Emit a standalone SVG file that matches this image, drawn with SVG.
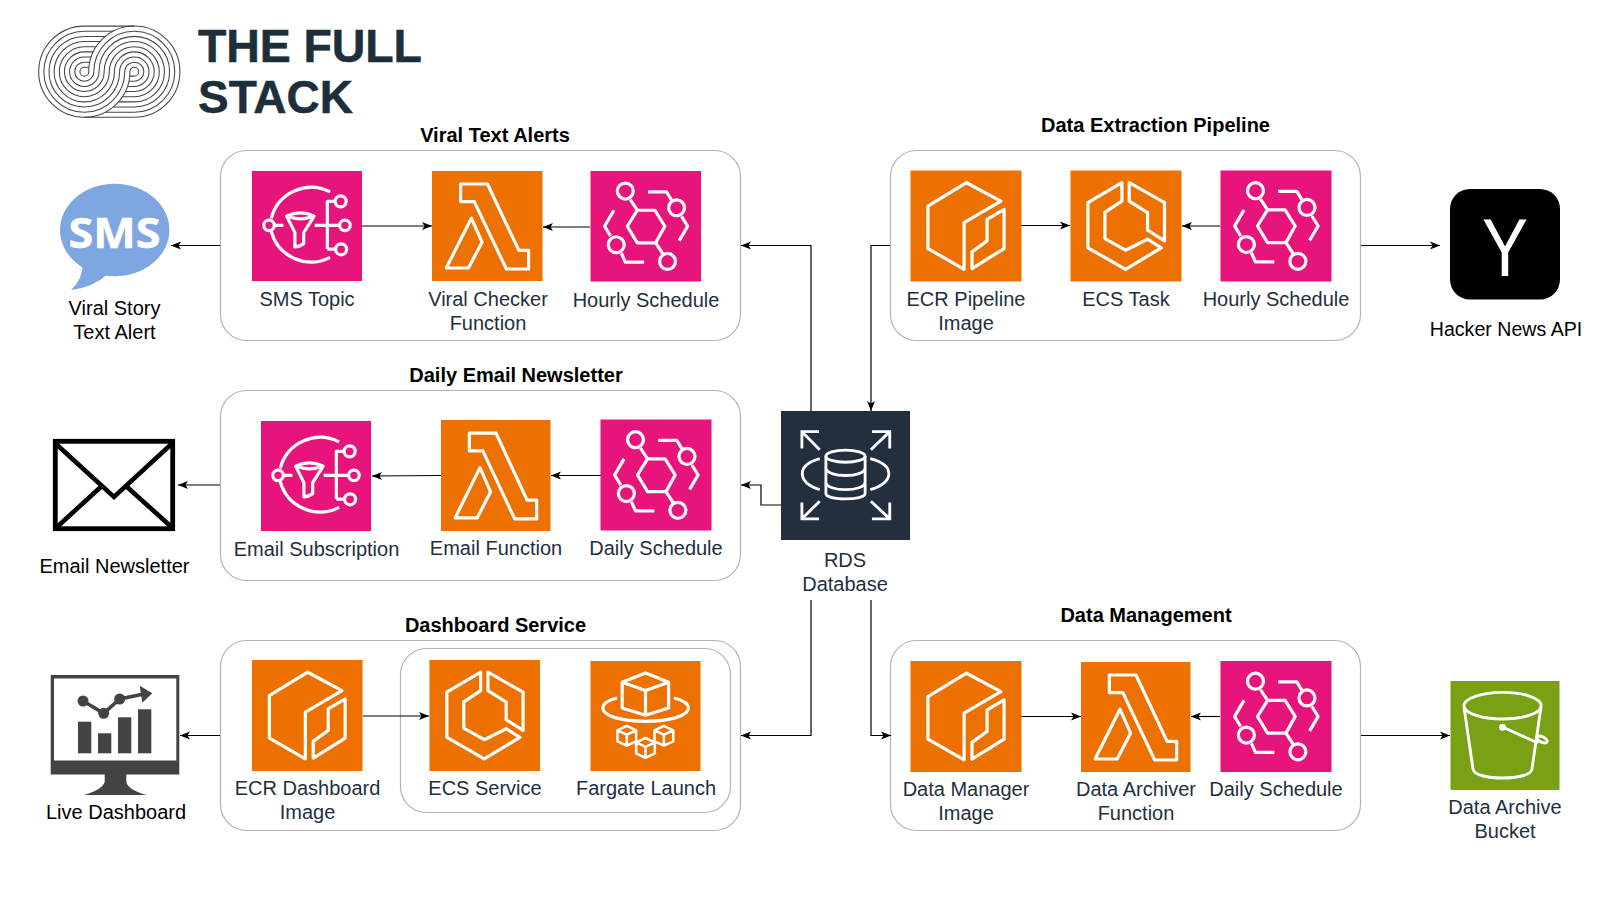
<svg xmlns="http://www.w3.org/2000/svg" width="1601" height="900" viewBox="0 0 1601 900">
<style>
text{font-family:"Liberation Sans",Arial,sans-serif}
.l{font-size:20px;fill:#232F3E;text-anchor:middle}
.k{font-size:20px;fill:#000;text-anchor:middle}
.t{font-size:20px;font-weight:700;fill:#000;text-anchor:middle}
.box{fill:#fff;stroke:#B3B3B3;stroke-width:1.2}
.w{fill:none;stroke:#fff;stroke-width:2.9;stroke-linejoin:round;stroke-linecap:butt}
.c{fill:none;stroke:#000;stroke-width:1.2}
.sp{fill:none;stroke:#444;stroke-width:1.05}
.m{fill:#434343}
.b{fill:#1C2F3B;stroke:#1C2F3B;stroke-width:.5}
</style>
<defs>
<marker id="a" markerUnits="userSpaceOnUse" markerWidth="10" markerHeight="9" viewBox="0 0 10 9" refX="10" refY="4.5" orient="auto"><path d="M0 .5L10 4.5L0 8.5L2.5 4.5Z" fill="#000"/></marker>
<g id="ic-eb"><rect width="100" height="100" fill="#E7157B"/><g class="w"><path d="M33.3 50L42.4 35.5H58.2L67.3 50L59 65H42.4Z"/><circle cx="31.5" cy="18.2" r="7.2"/><circle cx="69.7" cy="81.8" r="7.2"/><circle cx="77.9" cy="33.3" r="7.2"/><circle cx="23.3" cy="66.7" r="7.2"/><path d="M36 25.8L42.4 35.5M59 65L65.5 75M52 18.8H68.8L73.3 26.4M82.4 41L87.9 50L80.3 63M21.2 35.5L12.7 50L18.2 59M27.9 74.2L31.5 82.4H48.5"/></g></g>
<g id="ic-sns"><rect width="100" height="100" fill="#E7157B"/><g class="w"><path d="M71 19A37.5 37.5 0 0 0 17.5 43M17.5 55A37.5 37.5 0 0 0 71 78.5"/><circle cx="15.5" cy="49.4" r="4.8"/><path d="M20 49.4H28.5M31.5 41Q44 35 56.5 41Q44 46 31.5 41ZM31.5 41L39 56V69Q43 69 47 66V56L56.5 41M57 49.4H80M68.5 71V27.6H76M68.5 71H76.3"/><circle cx="80.6" cy="27.6" r="5"/><circle cx="84.5" cy="49.4" r="4.8"/><circle cx="81" cy="71.2" r="5"/></g></g>
<g id="ic-lam"><rect width="100" height="100" fill="#ED7100"/><g class="w"><path d="M25.9 11.8H50.2L78.6 72.2H87.4V89.1H67.3L38.2 27.8H25.9Z"/><path d="M35.6 42.9L45.3 64.7L33 88.2H12.9Z"/></g></g>
<g id="ic-ecr"><rect width="100" height="100" fill="#ED7100"/><g class="w"><path d="M15.7 32L50.4 11L81.4 27.6L48.3 47V89L15.7 70.3Z"/><path d="M84.3 35V70.3L55.4 88.3V73.3L69 63.4V44Z"/></g></g>
<g id="ic-ecs"><rect width="100" height="100" fill="#ED7100"/><g class="w"><path d="M46.3 11V27.6L31 37.8V61.3L49.6 71.8L69.4 61.9L81.8 69.7L49.6 89L15.7 69.7V29Z"/><path d="M52.9 11L84.7 29V63.4L69.4 53.8V38L52.9 27.6Z"/></g></g>
<g id="cube"><path d="M0 -9L8.5 -5V5L0 9L-8.5 5V-5ZM-8.5 -5L0 -1L8.5 -5M0 -1V9" fill="none" stroke="#fff" stroke-width="2.3" stroke-linejoin="round"/></g>
</defs>

<g id="logo">
<g class="sp">
<path d="M134.3 26.1H84.3A45.6 45.6 0 0 0 84.3 117.3A45.6 45.6 0 0 0 129.9 71.7A4.4 4.4 0 0 1 134.3 67.3A4.4 4.4 0 0 1 134.3 76.1H129.69"/>
<path d="M113.25 31.25H84.3A40.45 40.45 0 0 0 84.3 112.15A40.45 40.45 0 0 0 124.75 71.7A9.55 9.55 0 0 1 134.3 62.15A9.55 9.55 0 0 1 134.3 81.25H128.89"/>
<path d="M105.43 36.4H84.3A35.3 35.3 0 0 0 84.3 107A35.3 35.3 0 0 0 119.6 71.7A14.7 14.7 0 0 1 134.3 57A14.7 14.7 0 0 1 134.3 86.4H127.47"/>
<path d="M100.09 41.55H84.3A30.15 30.15 0 0 0 84.3 101.85A30.15 30.15 0 0 0 114.45 71.7A19.85 19.85 0 0 1 134.3 51.85A19.85 19.85 0 0 1 134.3 91.55H125.35"/>
<path d="M96.16 46.7H84.3A25 25 0 0 0 84.3 96.7A25 25 0 0 0 109.3 71.7A25 25 0 0 1 134.3 46.7A25 25 0 0 1 134.3 96.7H122.44"/>
<path d="M93.25 51.85H84.3A19.85 19.85 0 0 0 84.3 91.55A19.85 19.85 0 0 0 104.15 71.7A30.15 30.15 0 0 1 134.3 41.55A30.15 30.15 0 0 1 134.3 101.85H118.51"/>
<path d="M91.13 57H84.3A14.7 14.7 0 0 0 84.3 86.4A14.7 14.7 0 0 0 99 71.7A35.3 35.3 0 0 1 134.3 36.4A35.3 35.3 0 0 1 134.3 107H113.17"/>
<path d="M89.71 62.15H84.3A9.55 9.55 0 0 0 84.3 81.25A9.55 9.55 0 0 0 93.85 71.7A40.45 40.45 0 0 1 134.3 31.25A40.45 40.45 0 0 1 134.3 112.15H105.35"/>
<path d="M88.91 67.3H84.3A4.4 4.4 0 0 0 84.3 76.1A4.4 4.4 0 0 0 88.7 71.7A45.6 45.6 0 0 1 134.3 26.1A45.6 45.6 0 0 1 134.3 117.3H84.3"/>
</g>
<text class="b" x="198" y="62" font-size="46.5" font-weight="700" textLength="224" lengthAdjust="spacing">THE FULL</text>
<text class="b" x="198" y="112.5" font-size="46.5" font-weight="700" textLength="155" lengthAdjust="spacingAndGlyphs">STACK</text>
</g>

<g id="group-viral"><rect class="box" x="220.5" y="150.5" width="520" height="190" rx="26"/><text class="t" x="495" y="142">Viral Text Alerts</text></g>
<g id="group-extraction"><rect class="box" x="890.5" y="150.5" width="470" height="190" rx="26"/><text class="t" x="1155.5" y="132">Data Extraction Pipeline</text></g>
<g id="group-email"><rect class="box" x="220.5" y="390.5" width="520" height="190" rx="26"/><text class="t" x="516" y="382">Daily Email Newsletter</text></g>
<g id="group-dashboard"><rect class="box" x="220.5" y="640.5" width="520" height="190" rx="26"/><rect class="box" x="400.5" y="648.5" width="330" height="164" rx="26"/><text class="t" x="495.5" y="632">Dashboard Service</text></g>
<g id="group-management"><rect class="box" x="890.5" y="640.5" width="470" height="190" rx="26"/><text class="t" x="1146" y="622">Data Management</text></g>

<g id="connectors">
<path class="c" marker-end="url(#a)" d="M220 245.5H171"/>
<path class="c" marker-end="url(#a)" d="M362 226H432"/>
<path class="c" marker-end="url(#a)" d="M590 227H543"/>
<path class="c" marker-end="url(#a)" d="M811 411V245.5H741"/>
<path class="c" marker-end="url(#a)" d="M890 245.5H871V411"/>
<path class="c" marker-end="url(#a)" d="M1021 225.5H1070"/>
<path class="c" marker-end="url(#a)" d="M1220 226H1182"/>
<path class="c" marker-end="url(#a)" d="M1361 245.5H1440"/>
<path class="c" marker-end="url(#a)" d="M220 485H178"/>
<path class="c" marker-end="url(#a)" d="M441 475.5L372 476"/>
<path class="c" marker-end="url(#a)" d="M601 475.5H551"/>
<path class="c" marker-end="url(#a)" d="M781 505H761V485H741"/>
<path class="c" marker-end="url(#a)" d="M220 735.5H180"/>
<path class="c" marker-end="url(#a)" d="M363 716H429"/>
<path class="c" marker-end="url(#a)" d="M811 600V735.5H741"/>
<path class="c" marker-end="url(#a)" d="M871 600V735.5H891"/>
<path class="c" marker-end="url(#a)" d="M1021 716.5H1081"/>
<path class="c" marker-end="url(#a)" d="M1220 716.5H1191"/>
<path class="c" marker-end="url(#a)" d="M1361 735.5H1450"/>
</g>

<g id="sms-alert">
<ellipse cx="114.7" cy="230" rx="54.7" ry="46.3" fill="#7EA6E0"/>
<path d="M83 262Q83 279 71 290Q92 288 108 274Z" fill="#7EA6E0"/>
<text x="114.5" y="248" font-size="42" font-weight="700" fill="#fff" stroke="#fff" stroke-width=".5" text-anchor="middle" style="font-family:'Open Sans','DejaVu Sans',sans-serif" textLength="92" lengthAdjust="spacingAndGlyphs">SMS</text>
<text class="k" x="114.5" y="315">Viral Story</text><text class="k" x="114.5" y="339">Text Alert</text>
</g>
<g id="sms-topic"><use href="#ic-sns" transform="translate(252 171) scale(1.1)"/><text class="l" x="307" y="306">SMS Topic</text></g>
<g id="viral-checker"><use href="#ic-lam" transform="translate(432 171) scale(1.105 1.1)"/><text class="l" x="488" y="306">Viral Checker</text><text class="l" x="488" y="330">Function</text></g>
<g id="hourly-1"><use href="#ic-eb" transform="translate(590.5 171) scale(1.105)"/><text class="l" x="646" y="307">Hourly Schedule</text></g>

<g id="ecr-pipeline"><use href="#ic-ecr" transform="translate(910.5 170.5) scale(1.11)"/><text class="l" x="966" y="306">ECR Pipeline</text><text class="l" x="966" y="330">Image</text></g>
<g id="ecs-task"><use href="#ic-ecs" transform="translate(1070.5 170.5) scale(1.11)"/><text class="l" x="1126" y="306">ECS Task</text></g>
<g id="hourly-2"><use href="#ic-eb" transform="translate(1220.5 170.5) scale(1.11)"/><text class="l" x="1276" y="306">Hourly Schedule</text></g>
<g id="hacker-news"><rect x="1450" y="189" width="110" height="110.5" rx="20" fill="#000"/><text x="1505" y="276" font-size="82" fill="#fff" text-anchor="middle" textLength="46" lengthAdjust="spacingAndGlyphs">Y</text><text class="k" style="font-size:19.6px" x="1506" y="336">Hacker News API</text></g>

<g id="email-newsletter"><rect x="55.3" y="441.3" width="117.4" height="87.4" fill="#fff" stroke="#000" stroke-width="4.8"/><path d="M56 444L114 497L171.5 444M57 527L101 486.7M171.5 527L126.8 486.7" fill="none" stroke="#000" stroke-width="4.6"/><text class="k" x="114.5" y="573">Email Newsletter</text></g>
<g id="email-sub"><use href="#ic-sns" transform="translate(261 421) scale(1.1)"/><text class="l" x="316.5" y="556">Email Subscription</text></g>
<g id="email-fn"><use href="#ic-lam" transform="translate(441 420) scale(1.095 1.11)"/><text class="l" x="496" y="555">Email Function</text></g>
<g id="daily-1"><use href="#ic-eb" transform="translate(600.5 419.5) scale(1.11)"/><text class="l" x="656" y="555">Daily Schedule</text></g>

<g id="rds"><rect x="781" y="411" width="129" height="129" fill="#232F3E"/>
<g transform="translate(781 411) scale(1.29)" fill="none" stroke="#fff" stroke-width="2.2">
<ellipse cx="50" cy="35" rx="15.2" ry="4.7"/>
<path d="M34.8 35V64C34.8 69.5 65.2 69.5 65.2 64V35M34.8 44C34.8 52 65.2 52 65.2 44M34.8 55C34.8 63 65.2 63 65.2 55"/>
<path d="M30 37C12 42 12 55 30 61M69.2 37C88.4 42 88.4 55 69.2 61"/>
<path d="M29.5 16H16.2V29M16.2 16L30 30M70.5 16H84.3V29M84.3 16L69.7 30M29.5 83.6H16.2V70.9M16.2 83.6L30 70M70.5 83.6H84.3V70.9M84.3 83.6L69.7 70"/>
</g>
<text class="l" x="845" y="567">RDS</text><text class="l" x="845" y="591">Database</text></g>

<g id="live-dashboard">
<rect class="m" x="50.7" y="675" width="128.6" height="99.5"/><rect x="54" y="678.5" width="122.3" height="82" fill="#fff"/>
<path class="m" d="M104.7 774H126.3V782Q128 790 146.7 795H83.7Q102 790 104.7 782Z"/>
<rect class="m" x="78" y="721.7" width="13.3" height="31.6"/><rect class="m" x="98" y="733.3" width="13.3" height="20"/><rect class="m" x="118" y="717.3" width="13.3" height="36"/><rect class="m" x="138" y="709.3" width="13.3" height="44"/>
<path d="M83 701L103.7 713.3L119.7 699L144 694" fill="none" stroke="#434343" stroke-width="3.6"/>
<circle class="m" cx="83" cy="701" r="5.5"/><circle class="m" cx="103.7" cy="713.3" r="5.5"/><circle class="m" cx="119.7" cy="699" r="5.5"/><path class="m" d="M139.7 685.7L152.3 693.3L142.3 702.7Z"/>
<text class="k" x="116" y="819">Live Dashboard</text></g>
<g id="ecr-dashboard"><use href="#ic-ecr" transform="translate(252 660) scale(1.105 1.11)"/><text class="l" x="307.5" y="795">ECR Dashboard</text><text class="l" x="307.5" y="819">Image</text></g>
<g id="ecs-service"><use href="#ic-ecs" transform="translate(429.5 660) scale(1.105 1.11)"/><text class="l" x="485" y="795">ECS Service</text></g>
<g id="fargate"><rect x="590.5" y="661" width="110" height="110" fill="#ED7100"/>
<g transform="translate(590.5 661) scale(1.1)"><path class="w" d="M50 11L71 19.3V42.8L50 49.4L28.8 42.8V19.3ZM28.8 19.3L50 26.8L71 19.3M50 26.8V49.4M24.2 33.7C15 36 11.2 39 11.2 42.8C11.2 50 28 54.8 50 54.8C72 54.8 89 50 89 42.8C89 39 85 36 75.8 33.7"/><use href="#cube" x="33" y="68"/><use href="#cube" x="66.7" y="68"/><use href="#cube" x="50" y="79"/></g>
<text class="l" x="646" y="795">Fargate Launch</text></g>

<g id="data-manager"><use href="#ic-ecr" transform="translate(910.5 661) scale(1.11)"/><text class="l" x="966" y="796">Data Manager</text><text class="l" x="966" y="820">Image</text></g>
<g id="data-archiver"><use href="#ic-lam" transform="translate(1081 662) scale(1.095 1.1)"/><text class="l" x="1136" y="796">Data Archiver</text><text class="l" x="1136" y="820">Function</text></g>
<g id="daily-2"><use href="#ic-eb" transform="translate(1220.5 661) scale(1.11)"/><text class="l" x="1276" y="796">Daily Schedule</text></g>
<g id="data-bucket"><rect x="1450.5" y="681" width="109" height="109" fill="#7AA116"/>
<g class="w"><ellipse cx="1502.6" cy="705.7" rx="38.6" ry="13.3"/><path d="M1464 707L1473 769C1474 781 1531 781 1532 769L1541 707"/><path d="M1503 727.3L1538 743"/><ellipse cx="1542" cy="739.5" rx="5.5" ry="2.8" transform="rotate(25 1542 739.5)"/></g><circle cx="1502.6" cy="727.3" r="3.5" fill="#fff"/>
<text class="l" x="1505" y="814">Data Archive</text><text class="l" x="1505" y="838">Bucket</text></g>
</svg>
